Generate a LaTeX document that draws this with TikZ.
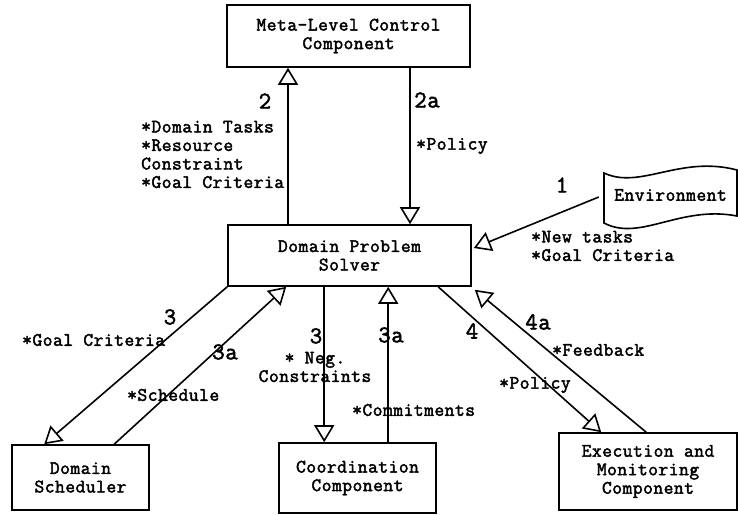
\documentclass[tikz,border=0pt]{standalone}
\usepackage{fontspec}
\setmonofont{Latin Modern Mono}[AutoFakeBold=2.2, LetterSpace=2.6]
\usetikzlibrary{arrows.meta}
\begin{document}
\begin{tikzpicture}[x=1pt, y=-1pt, font=\ttfamily\bfseries\fontsize{19}{18.5}\selectfont,
	box/.style={draw, line width=1.6pt, align=center, inner sep=0pt},
	lbl/.style={anchor=west, align=left, inner sep=0pt},
	num/.style={inner sep=0pt, font=\ttfamily\bfseries\fontsize{24}{24}\selectfont},
	flow/.style={line width=1.6pt, -{Triangle[open, length=17pt, width=20pt, line width=1.6pt]}}]
	\useasboundingbox (0,0) rectangle (738,514);
	%components
	\node[box, minimum width=243pt, minimum height=62pt] (meta) at (348.5,36) {Meta-Level Control\\Component};
	\node[box, minimum width=243pt, minimum height=61pt] (dps) at (349.5,255.5) {Domain Problem\\Solver};
	\node[box, minimum width=137pt, minimum height=65pt] (sched) at (80.5,477.5) {Domain\\Scheduler};
	\node[box, minimum width=157pt, minimum height=70pt] (coord) at (357.5,478) {Coordination\\Component};
	\node[box, minimum width=178pt, minimum height=77pt] (exec) at (648,471.5) {Execution and\\Monitoring\\Component};
	%environment flag
	\node[inner sep=0pt, minimum width=133pt] (env) at (670.5,195) {Environment};
	\draw[line width=1.6pt] (604,173) .. controls (640,190) and (680,155) .. (737,170)
		-- (737,216) .. controls (680,205) and (640,242) .. (604,223) -- cycle;
	%flows
	\draw[flow] ([xshift=-61.5pt]dps.north) -- ([xshift=-60.5pt]meta.south);
	\draw[flow] ([xshift=61.5pt]meta.south) -- ([xshift=60.5pt]dps.north);
	\draw[flow] ([xshift=-5pt, yshift=-2pt]env.west) -- ([xshift=2pt, yshift=7.5pt]dps.east);
	\draw[flow] (dps.south west) -- ([xshift=33pt]sched.north west);
	\draw[flow] ([xshift=103pt]sched.north west) -- ([xshift=59pt]dps.south west);
	\draw[flow] ([xshift=97pt]dps.south west) -- ([xshift=46pt]coord.north west);
	\draw[flow] ([xshift=110pt]coord.north west) -- ([xshift=161pt]dps.south west);
	\draw[flow] ([xshift=211pt]dps.south west) -- ([xshift=43pt]exec.north west);
	\draw[flow] ([xshift=88pt]exec.north west) -- ([xshift=3pt, yshift=-3pt]dps.south east);
	%labels
	\node[num] (n2) at (265,101) {2};
	\node[lbl] (l2) at (141,154.5) {*Domain Tasks\\ *Resource\\ Constraint\\*Goal Criteria};
	\node[num] (n2a) at (427,100) {2a};
	\node[lbl] (l2a) at (416,146) {*Policy};
	\node[num] (n1) at (562,185) {1};
	\node[lbl] (l1) at (531,246) {*New tasks\\ *Goal Criteria};
	\node[num] (n3s) at (170,317) {3};
	\node[lbl] (l3s) at (22,340) {*Goal Criteria};
	\node[num] (n3as) at (225,352) {3a};
	\node[lbl] (l3as) at (127,395) {*Schedule};
	\node[num] (n3c) at (316,336) {3};
	\node[inner sep=0pt, align=center] (l3c) at (315,367) {* Neg.\\Constraints};
	\node[num] (n3ac) at (391,335) {3a};
	\node[lbl] (l3ac) at (352,410) {*Commitments};
	\node[num] (n4) at (472,331) {4};
	\node[lbl] (l4) at (499,385) {*Policy};
	\node[num] (n4a) at (538,322) {4a};
	\node[lbl] (l4a) at (552,350) {*Feedback};
\end{tikzpicture}
\end{document}
